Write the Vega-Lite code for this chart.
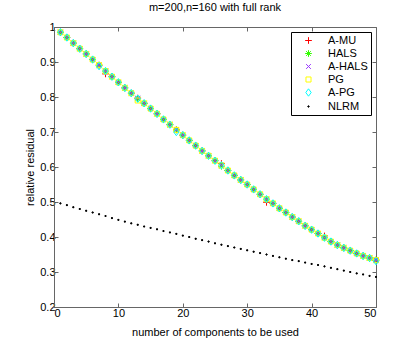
{
  "$schema": "https://vega.github.io/schema/vega-lite/v6.json",
  "autosize": "none",
  "width": 322,
  "height": 280,
  "padding": {"left": 54, "top": 27, "right": 39, "bottom": 39},
  "background": "white",
  "title": {"text": "m=200,n=160 with full rank", "font": "Liberation Sans", "fontSize": 11, "fontWeight": "normal", "color": "black", "offset": 8},
  "config": {
    "view": {"stroke": "#666", "strokeWidth": 1},
    "axis": {"labelFont": "Liberation Sans", "labelFontSize": 11, "labelColor": "black", "titleFont": "Liberation Sans", "titleFontSize": 11, "titleFontWeight": "normal", "titleColor": "black", "domainColor": "#666", "tickColor": "#666", "tickSize": -4, "grid": false},
    "legend": {"labelFont": "Liberation Sans", "labelFontSize": 11, "labelColor": "black"}
  },
  "data": {"values": [
    {"k":1,"A-MU":0.985,"HALS":0.985,"A-HALS":0.985,"PG":0.985,"A-PG":0.985,"NLRM":0.496},
    {"k":2,"A-MU":0.970,"HALS":0.970,"A-HALS":0.970,"PG":0.970,"A-PG":0.970,"NLRM":0.491},
    {"k":3,"A-MU":0.954,"HALS":0.954,"A-HALS":0.954,"PG":0.954,"A-PG":0.954,"NLRM":0.485},
    {"k":4,"A-MU":0.938,"HALS":0.938,"A-HALS":0.938,"PG":0.938,"A-PG":0.938,"NLRM":0.480},
    {"k":5,"A-MU":0.923,"HALS":0.923,"A-HALS":0.923,"PG":0.923,"A-PG":0.923,"NLRM":0.475},
    {"k":6,"A-MU":0.907,"HALS":0.907,"A-HALS":0.907,"PG":0.907,"A-PG":0.907,"NLRM":0.470},
    {"k":7,"A-MU":0.891,"HALS":0.891,"A-HALS":0.891,"PG":0.891,"A-PG":0.888,"NLRM":0.465},
    {"k":8,"A-MU":0.866,"HALS":0.874,"A-HALS":0.874,"PG":0.874,"A-PG":0.874,"NLRM":0.460},
    {"k":9,"A-MU":0.858,"HALS":0.858,"A-HALS":0.858,"PG":0.858,"A-PG":0.858,"NLRM":0.454},
    {"k":10,"A-MU":0.842,"HALS":0.842,"A-HALS":0.842,"PG":0.842,"A-PG":0.842,"NLRM":0.449},
    {"k":11,"A-MU":0.826,"HALS":0.826,"A-HALS":0.826,"PG":0.826,"A-PG":0.826,"NLRM":0.444},
    {"k":12,"A-MU":0.811,"HALS":0.811,"A-HALS":0.811,"PG":0.811,"A-PG":0.811,"NLRM":0.439},
    {"k":13,"A-MU":0.797,"HALS":0.795,"A-HALS":0.797,"PG":0.790,"A-PG":0.795,"NLRM":0.435},
    {"k":14,"A-MU":0.782,"HALS":0.782,"A-HALS":0.782,"PG":0.782,"A-PG":0.782,"NLRM":0.430},
    {"k":15,"A-MU":0.767,"HALS":0.767,"A-HALS":0.767,"PG":0.767,"A-PG":0.767,"NLRM":0.426},
    {"k":16,"A-MU":0.752,"HALS":0.752,"A-HALS":0.752,"PG":0.752,"A-PG":0.752,"NLRM":0.422},
    {"k":17,"A-MU":0.736,"HALS":0.736,"A-HALS":0.736,"PG":0.736,"A-PG":0.736,"NLRM":0.417},
    {"k":18,"A-MU":0.721,"HALS":0.721,"A-HALS":0.721,"PG":0.721,"A-PG":0.721,"NLRM":0.413},
    {"k":19,"A-MU":0.706,"HALS":0.706,"A-HALS":0.706,"PG":0.706,"A-PG":0.700,"NLRM":0.409},
    {"k":20,"A-MU":0.691,"HALS":0.691,"A-HALS":0.691,"PG":0.691,"A-PG":0.691,"NLRM":0.404},
    {"k":21,"A-MU":0.676,"HALS":0.676,"A-HALS":0.676,"PG":0.676,"A-PG":0.676,"NLRM":0.400},
    {"k":22,"A-MU":0.661,"HALS":0.661,"A-HALS":0.661,"PG":0.661,"A-PG":0.661,"NLRM":0.395},
    {"k":23,"A-MU":0.646,"HALS":0.646,"A-HALS":0.646,"PG":0.646,"A-PG":0.646,"NLRM":0.391},
    {"k":24,"A-MU":0.632,"HALS":0.632,"A-HALS":0.632,"PG":0.632,"A-PG":0.632,"NLRM":0.387},
    {"k":25,"A-MU":0.618,"HALS":0.618,"A-HALS":0.618,"PG":0.618,"A-PG":0.618,"NLRM":0.382},
    {"k":26,"A-MU":0.610,"HALS":0.602,"A-HALS":0.605,"PG":0.605,"A-PG":0.605,"NLRM":0.378},
    {"k":27,"A-MU":0.590,"HALS":0.590,"A-HALS":0.590,"PG":0.590,"A-PG":0.590,"NLRM":0.374},
    {"k":28,"A-MU":0.576,"HALS":0.576,"A-HALS":0.576,"PG":0.576,"A-PG":0.576,"NLRM":0.370},
    {"k":29,"A-MU":0.563,"HALS":0.563,"A-HALS":0.563,"PG":0.563,"A-PG":0.563,"NLRM":0.366},
    {"k":30,"A-MU":0.550,"HALS":0.550,"A-HALS":0.550,"PG":0.550,"A-PG":0.550,"NLRM":0.362},
    {"k":31,"A-MU":0.536,"HALS":0.536,"A-HALS":0.536,"PG":0.536,"A-PG":0.536,"NLRM":0.358},
    {"k":32,"A-MU":0.522,"HALS":0.522,"A-HALS":0.522,"PG":0.522,"A-PG":0.522,"NLRM":0.354},
    {"k":33,"A-MU":0.499,"HALS":0.508,"A-HALS":0.508,"PG":0.508,"A-PG":0.508,"NLRM":0.350},
    {"k":34,"A-MU":0.496,"HALS":0.496,"A-HALS":0.496,"PG":0.496,"A-PG":0.496,"NLRM":0.346},
    {"k":35,"A-MU":0.482,"HALS":0.482,"A-HALS":0.482,"PG":0.482,"A-PG":0.482,"NLRM":0.342},
    {"k":36,"A-MU":0.470,"HALS":0.470,"A-HALS":0.470,"PG":0.470,"A-PG":0.470,"NLRM":0.338},
    {"k":37,"A-MU":0.457,"HALS":0.457,"A-HALS":0.457,"PG":0.457,"A-PG":0.457,"NLRM":0.334},
    {"k":38,"A-MU":0.445,"HALS":0.445,"A-HALS":0.445,"PG":0.445,"A-PG":0.445,"NLRM":0.331},
    {"k":39,"A-MU":0.432,"HALS":0.432,"A-HALS":0.432,"PG":0.432,"A-PG":0.432,"NLRM":0.327},
    {"k":40,"A-MU":0.421,"HALS":0.421,"A-HALS":0.421,"PG":0.421,"A-PG":0.421,"NLRM":0.323},
    {"k":41,"A-MU":0.410,"HALS":0.410,"A-HALS":0.410,"PG":0.410,"A-PG":0.410,"NLRM":0.320},
    {"k":42,"A-MU":0.403,"HALS":0.398,"A-HALS":0.398,"PG":0.398,"A-PG":0.398,"NLRM":0.316},
    {"k":43,"A-MU":0.387,"HALS":0.387,"A-HALS":0.387,"PG":0.387,"A-PG":0.387,"NLRM":0.312},
    {"k":44,"A-MU":0.377,"HALS":0.377,"A-HALS":0.377,"PG":0.377,"A-PG":0.377,"NLRM":0.308},
    {"k":45,"A-MU":0.369,"HALS":0.369,"A-HALS":0.369,"PG":0.369,"A-PG":0.369,"NLRM":0.304},
    {"k":46,"A-MU":0.361,"HALS":0.361,"A-HALS":0.361,"PG":0.361,"A-PG":0.361,"NLRM":0.300},
    {"k":47,"A-MU":0.353,"HALS":0.353,"A-HALS":0.353,"PG":0.353,"A-PG":0.353,"NLRM":0.296},
    {"k":48,"A-MU":0.346,"HALS":0.346,"A-HALS":0.346,"PG":0.346,"A-PG":0.346,"NLRM":0.293},
    {"k":49,"A-MU":0.340,"HALS":0.340,"A-HALS":0.340,"PG":0.340,"A-PG":0.340,"NLRM":0.289},
    {"k":50,"A-MU":0.334,"HALS":0.334,"A-HALS":0.334,"PG":0.334,"A-PG":0.331,"NLRM":0.286}
  ]},
  "transform": [{"fold": ["A-MU", "HALS", "A-HALS", "PG", "A-PG", "NLRM"], "as": ["method", "residual"]}],
  "layer": [
    {
      "mark": {"type": "point", "filled": false, "strokeWidth": 1, "opacity": 1, "size": 45},
      "encoding": {
        "x": {"field": "k", "type": "quantitative", "scale": {"domain": [0, 50], "nice": false, "zero": false},
              "axis": {"values": [0, 10, 20, 30, 40, 50], "title": "number of components to be used", "labelPadding": 4, "titlePadding": 8}},
        "y": {"field": "residual", "type": "quantitative", "scale": {"domain": [0.2, 1], "nice": false, "zero": false},
              "axis": {"values": [0.2, 0.3, 0.4, 0.5, 0.6, 0.7, 0.8, 0.9, 1], "format": "~g", "title": "relative residual", "labelPadding": 3, "titlePadding": 4}},
        "color": {"field": "method", "type": "nominal",
                  "scale": {"domain": ["A-MU", "HALS", "A-HALS", "PG", "A-PG", "NLRM"], "range": ["#ff0000", "#33ff00", "#9933ff", "#ffff00", "#00ffff", "#000000"]},
                  "legend": {"title": null, "orient": "top-right", "offset": 5, "strokeColor": "black", "fillColor": "white", "padding": 3, "symbolOffset": 9, "labelOffset": 14, "rowPadding": 1, "symbolSize": 45, "symbolStrokeWidth": 1}},
        "shape": {"field": "method", "type": "nominal",
                  "scale": {"domain": ["A-MU", "HALS", "A-HALS", "PG", "A-PG", "NLRM"],
                            "range": ["M-1,0L1,0M0,-1L0,1", "M-1,0L1,0M0,-1L0,1M-0.7,-0.7L0.7,0.7M-0.7,0.7L0.7,-0.7", "M-0.7,-0.7L0.7,0.7M-0.7,0.7L0.7,-0.7", "M-0.75,-0.75H0.75V0.75H-0.75Z", "M0,-1.1L0.8,0L0,1.1L-0.8,0Z", "M-0.25,0L0.25,0M0,-0.25L0,0.25M-0.15,-0.15H0.15V0.15H-0.15Z"]},
                  "legend": {"title": null}}
      }
    },
    {
      "mark": {"type": "point", "opacity": 0},
      "encoding": {
        "x": {"field": "k", "type": "quantitative", "axis": {"orient": "top", "values": [0, 10, 20, 30, 40, 50], "labels": false, "title": null, "domain": false}},
        "y": {"field": "residual", "type": "quantitative", "axis": {"orient": "right", "values": [0.2, 0.3, 0.4, 0.5, 0.6, 0.7, 0.8, 0.9, 1], "labels": false, "title": null, "domain": false}}
      }
    }
  ],
  "resolve": {"axis": {"x": "independent", "y": "independent"}}
}
